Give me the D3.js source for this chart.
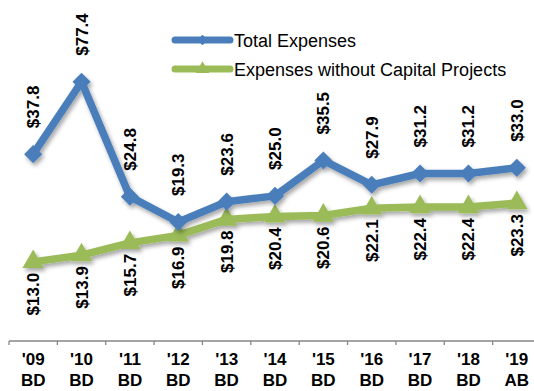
<!DOCTYPE html>
<html>
<head>
<meta charset="utf-8">
<script src="https://cdn.jsdelivr.net/npm/d3@7"></script>
<style>
  html, body { margin: 0; padding: 0; background: #fff; }
  svg { display: block; font-family: "Liberation Sans", Arial, sans-serif; }
</style>
</head>
<body>
<svg id="chart" width="534" height="391"></svg>
<script>
// Fiscal years on the category axis (two-line labels)
const years = ["'09", "'10", "'11", "'12", "'13", "'14", "'15", "'16", "'17", "'18", "'19"];
const budgetTypes = ["BD", "BD", "BD", "BD", "BD", "BD", "BD", "BD", "BD", "BD", "AB"];

// Expenses in $ millions
const totalExpenses = [37.8, 77.4, 24.8, 19.3, 23.6, 25.0, 35.5, 27.9, 31.2, 31.2, 33.0];
const noCapitalExpenses = [13.0, 13.9, 15.7, 16.9, 19.8, 20.4, 20.6, 22.1, 22.4, 22.4, 23.3];

const seriesNames = ["Total Expenses", "Expenses without Capital Projects"];
const seriesColors = ["#4A7EBB", "#9BBB59"];

const svg = d3.select("#chart");
const defs = svg.append("defs");
const shadow = defs.append("filter").attr("id", "shadow")
  .attr("x", "-20%").attr("y", "-20%").attr("width", "140%").attr("height", "140%");
shadow.append("feDropShadow")
  .attr("dx", 2).attr("dy", 3).attr("stdDeviation", 2)
  .attr("flood-color", "#000").attr("flood-opacity", 0.35);

const x = d3.scaleBand().domain(d3.range(years.length)).range([9, 541]);
const y = d3.scaleLog().domain([10, 100]).range([288.4, 55.9]);
const cx = i => x(i) + x.bandwidth() / 2;

// Category axis
const axisY = 341;
const xAxis = svg.append("g").attr("transform", `translate(0,${axisY})`);
xAxis.append("line").attr("x1", x.range()[0]).attr("x2", x.range()[1])
  .attr("stroke", "#868686").attr("stroke-width", 1.3);
xAxis.selectAll("line.tick").data(d3.range(years.length + 1)).join("line")
  .attr("class", "tick")
  .attr("x1", i => x.range()[0] + i * x.step()).attr("x2", i => x.range()[0] + i * x.step())
  .attr("y1", 0).attr("y2", 4).attr("stroke", "#868686").attr("stroke-width", 1.3);
const catLabels = xAxis.selectAll("text").data(d3.range(years.length)).join("text")
  .attr("text-anchor", "middle").attr("font-weight", "bold").attr("font-size", 17)
  .attr("fill", "#000");
catLabels.append("tspan").attr("x", cx).attr("y", 24).text(i => years[i]);
catLabels.append("tspan").attr("x", cx).attr("y", 45).text(i => budgetTypes[i]);

const line = d3.line().x((d, i) => cx(i)).y(d => y(d));
const diamond = d3.symbol().type(d3.symbolDiamond2).size(210);
const triangle = d3.symbol().type(d3.symbolTriangle).size(200);

function drawSeries(values, color, sym) {
  const g = svg.append("g").attr("filter", "url(#shadow)");
  g.append("path").datum(values).attr("d", line)
    .attr("fill", "none").attr("stroke", color).attr("stroke-width", 7.5)
    .attr("stroke-linejoin", "round");
  g.selectAll("path.marker").data(values).join("path")
    .attr("class", "marker")
    .attr("transform", (d, i) => `translate(${cx(i)},${y(d)})`)
    .attr("d", sym).attr("fill", color);
}

drawSeries(noCapitalExpenses, seriesColors[1], triangle);
drawSeries(totalExpenses, seriesColors[0], diamond);

// Value labels, rotated to read bottom-to-top
function drawLabels(values, above) {
  svg.append("g").selectAll("text").data(values).join("text")
    .attr("transform", (d, i) => {
      const py = above ? y(d) - 26 : y(d) + 11;
      return `translate(${cx(i) + 6},${py}) rotate(-90)`;
    })
    .attr("text-anchor", above ? "start" : "end")
    .attr("font-weight", "bold").attr("font-size", 17).attr("fill", "#000")
    .text(d => "$" + d.toFixed(1));
}
drawLabels(totalExpenses, true);
drawLabels(noCapitalExpenses, false);

// Legend
const legend = svg.append("g");
const legendSyms = [d3.symbol().type(d3.symbolDiamond2).size(70), d3.symbol().type(d3.symbolTriangle).size(80)];
seriesNames.forEach((name, k) => {
  const ly = 40 + k * 29;
  legend.append("line").attr("x1", 175).attr("x2", 230).attr("y1", ly).attr("y2", ly)
    .attr("stroke", seriesColors[k]).attr("stroke-width", 7).attr("stroke-linecap", "round");
  legend.append("path").attr("transform", `translate(202.5,${ly})`)
    .attr("d", legendSyms[k]).attr("fill", seriesColors[k]);
  legend.append("text").attr("x", 234).attr("y", ly + 6.5)
    .attr("font-size", 18).attr("fill", "#000").text(name);
});
</script>
</body>
</html>
